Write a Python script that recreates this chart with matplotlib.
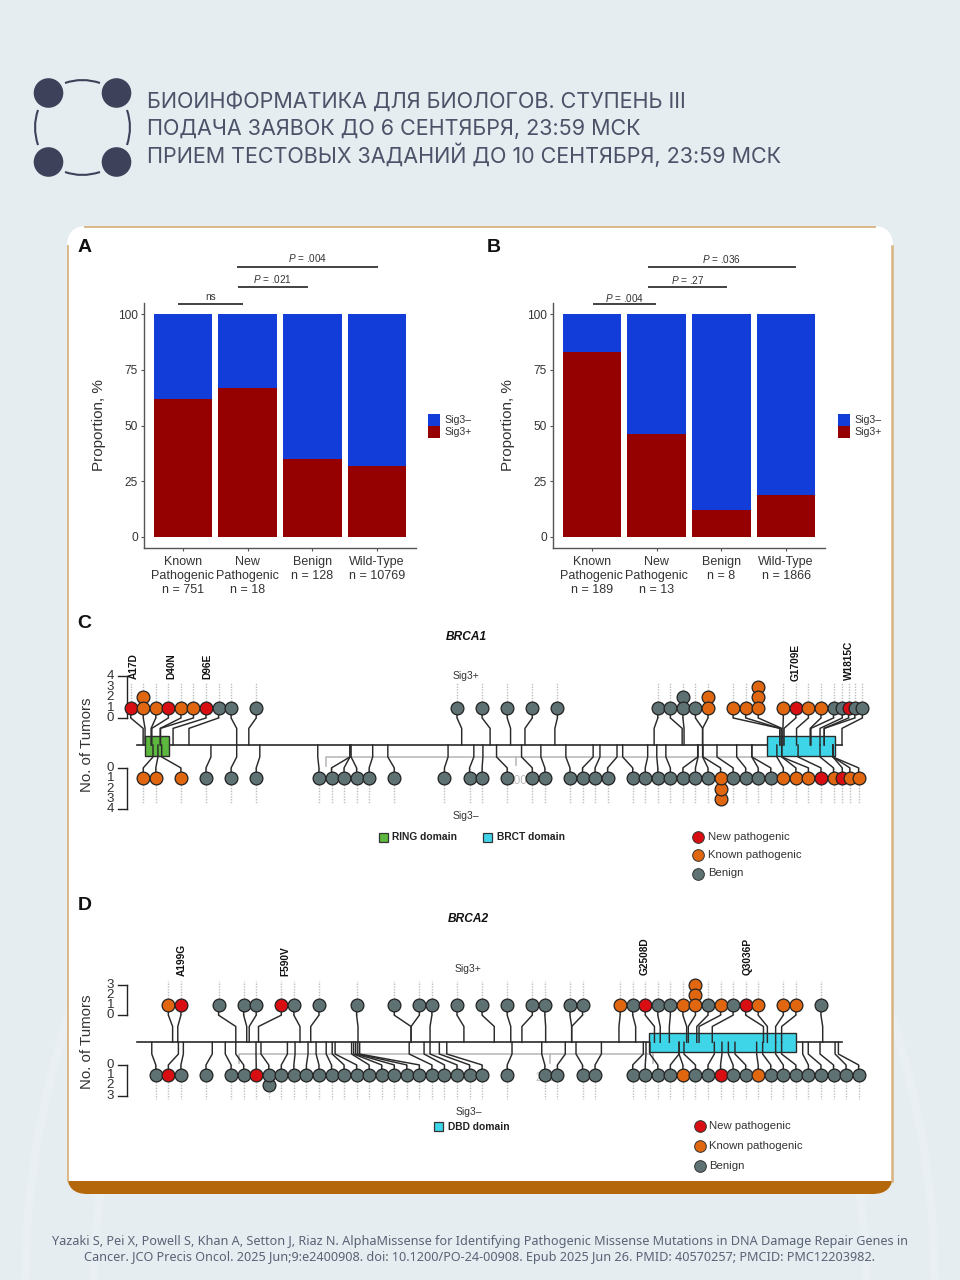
import matplotlib
matplotlib.use('Agg')
import matplotlib.pyplot as plt
from matplotlib.patches import FancyBboxPatch, Rectangle, Circle, PathPatch, Arc
from matplotlib.path import Path

plt.rcParams['font.family'] = ['Liberation Sans', 'DejaVu Sans']
plt.rcParams['mathtext.fontset'] = 'custom'
plt.rcParams['mathtext.it'] = 'Liberation Sans:italic'
plt.rcParams['mathtext.rm'] = 'Liberation Sans'

W, H = 960, 1280

# Bar panels
labels_a = ['Known\nPathogenic\nn = 751', 'New\nPathogenic\nn = 18', 'Benign\nn = 128', 'Wild-Type\nn = 10769']
labels_b = ['Known\nPathogenic\nn = 189', 'New\nPathogenic\nn = 13', 'Benign\nn = 8', 'Wild-Type\nn = 1866']
sig_pos_a = [62, 67, 35, 32]
sig_pos_b = [83, 46, 12, 19]
y_ticks = [0, 25, 50, 75, 100]

# BRCA1 lollipops: slot along the dot row, tumor count, class, residue on the protein
c_top_slot = [0, 1, 2, 3, 4, 5, 6, 7, 8, 10, 26, 28, 30, 32, 34, 42, 43, 44, 45, 46, 48, 49, 50, 52, 53, 54, 55,
              56, 56.7, 57.2, 57.7, 58.3]
c_top_count = [1, 2, 1, 1, 1, 1, 1, 1, 1, 1, 1, 1, 1, 1, 1, 1, 1, 2, 1, 2, 1, 1, 3, 1, 1, 1, 1, 1, 1, 1, 1, 1]
c_top_class = list('nkknkknbbbbbbbbbbbbkkkkknkkbbnbb')
c_top_res = [17, 22, 38, 40, 62, 63, 96, 138, 264, 296, 858, 933, 987, 1025, 1104, 1366, 1440, 1445, 1494, 1494,
             1698, 1698, 1703, 1706, 1709, 1742, 1778, 1780, 1804, 1815, 1815, 1862]

c_bot_slot = [1, 2, 4, 6, 8, 10, 15, 16, 17, 18, 19, 21, 25, 27, 28, 30, 32, 33, 35, 36, 37, 38, 40, 41, 42, 43, 44,
              45, 46, 47, 48, 49, 50, 51, 52, 53, 54, 55, 56, 56.7, 57.3, 58]
c_bot_count = [1] * 29 + [3] + [1] * 12
c_bot_class = list('kkkbbbbbbbbbbbbbbbbbbbbbbbbbbkbbbbkkknknkk')
c_bot_res = [43, 56, 66, 196, 264, 325, 478, 563, 563, 566, 623, 663, 822, 890, 914, 950, 1016, 1067, 1133, 1205,
             1223, 1268, 1283, 1349, 1373, 1397, 1481, 1482, 1494, 1495, 1532, 1584, 1624, 1624, 1690, 1703, 1703,
             1746, 1804, 1838, 1838, 1838]

# BRCA2 lollipops
d_top_slot = [3, 4, 7, 9, 10, 12, 13, 15, 18, 21, 23, 24, 26, 28, 30, 32, 33, 35, 36, 39, 40, 41, 42, 43, 44, 45,
              46, 47, 48, 49, 50, 52, 53, 55]
d_top_count = [1] * 25 + [3] + [1] * 8
d_top_class = list('knbbbnbbbbbbbbbbbbbkbnbbkkbkbnkkkb')
d_top_res = [174, 199, 480, 533, 545, 590, 791, 843, 1072, 1329, 1329, 1421, 1585, 1732, 1812, 1866, 1981, 2107,
             2107, 2336, 2417, 2508, 2536, 2580, 2664, 2672, 2713, 2724, 2788, 3036, 3055, 3095, 3124, 3323]

d_bot_slot = [2, 3, 4, 6, 8, 9, 10, 11, 12, 13, 14, 15, 16, 17, 18, 19, 20, 21, 22, 23, 24, 25, 26, 27, 28, 30, 33,
              34, 36, 37, 40, 41, 42, 43, 44, 45, 46, 47, 48, 49, 50, 51, 52, 53, 54, 55, 56, 57, 58]
d_bot_count = [1] * 7 + [2] + [1] * 41
d_bot_class = list('bnbbbbnbbbbbbbbbbbbbbbbbbbbbbbbbbbkbbnbbkbbbbbbbb')
d_bot_res = [73, 202, 226, 366, 429, 480, 578, 602, 730, 767, 830, 869, 918, 947, 961, 1041, 1051, 1061, 1071, 1080,
             1320, 1392, 1421, 1466, 1502, 1818, 1962, 2076, 2128, 2251, 2454, 2467, 2486, 2627, 2627, 2651, 2798,
             2835, 2866, 2898, 3003, 3032, 3095, 3124, 3226, 3253, 3310, 3383, 3399]

colors = {'n': '#D80E12', 'k': '#E0660F', 'b': '#5E7273'}
RED, BLUE = '#950000', '#123DD8'
TXT = '#333333'


def px_axes(x0, y0, x1, y1):
    return fig.add_axes([x0 / W, 1 - y1 / H, (x1 - x0) / W, (y1 - y0) / H])


def arc_line(ax, p0, ctrl, p1):
    path = Path([p0, ctrl, p1], [Path.MOVETO, Path.CURVE3, Path.CURVE3])
    ax.add_patch(PathPatch(path, fc='none', ec='#3D4159', lw=1.5))


def bar_panel(x0, labels, sig_pos):
    ax = px_axes(x0, 303, x0 + 272, 548)
    pos = range(len(labels))
    neg = [100 - v for v in sig_pos]
    ax.bar(pos, sig_pos, width=0.9, color=RED)
    ax.bar(pos, neg, width=0.9, bottom=sig_pos, color=BLUE)
    ax.set_xlim(-0.6, 3.6)
    ax.set_ylim(-5, 105)
    ax.set_yticks(y_ticks)
    ax.set_xticks(list(pos))
    ax.set_xticklabels(labels, fontsize=9, color=TXT, linespacing=1.2)
    ax.tick_params(axis='y', labelsize=8.6, labelcolor=TXT, length=2.5, color='#555555', pad=2)
    ax.tick_params(axis='x', length=2, color='#555555', pad=4)
    ax.set_ylabel('Proportion, %', fontsize=11, color=TXT, labelpad=8.5)
    ax.patch.set_visible(False)
    for s in ['top', 'right']:
        ax.spines[s].set_visible(False)
    for s in ['left', 'bottom']:
        ax.spines[s].set_color('#555555')
        ax.spines[s].set_linewidth(1)
    return ax


def sig_bar(x0, x1, y, label, y_text):
    bg.plot([x0, x1], [y, y], color='#222222', lw=1.2, solid_capstyle='butt')
    bg.text((x0 + x1) / 2, y_text, label, ha='center', va='center', fontsize=7.2, color=TXT)


def lollipop_row(ax, slots, counts, classes, res, sign, zero, elbow, scale):
    for s, c, k, r in zip(slots, counts, classes, res):
        x_dot = (12.55 * s - 6) * scale
        ax.plot([x_dot, x_dot], [sign * zero, sign * (zero + 3.35)], color='#BDBDBD', lw=1,
                ls=(0, (1, 1)), zorder=1)
        ax.plot([r, r, x_dot, x_dot], [0, sign * elbow, sign * zero, sign * (zero + 1)],
                color='#2A2A2A', lw=1.05, zorder=4, solid_joinstyle='round')
    for s, c, k in zip(slots, counts, classes):
        x_dot = (12.55 * s - 6) * scale
        for i in range(c, 0, -1):
            ax.plot(x_dot, sign * (zero + i), 'o', ms=9.2, mfc=colors[k], mec='#222222', mew=0.9, zorder=5)


def count_axis(ax, sign, zero, n, scale):
    x_line = (127 - 136.7) * scale
    x_tick = (118 - 136.7) * scale
    x_text = (110.5 - 136.7) * scale
    ys = [sign * (zero + i) for i in range(n + 1)]
    ax.plot([x_line, x_line], [ys[0], ys[-1]], color='#222222', lw=1, clip_on=False)
    for i, y in enumerate(ys):
        if i in (0, n):
            ax.plot([x_tick, x_line], [y, y], color='#222222', lw=1, clip_on=False)
        ax.text(x_text, y, str(i), ha='center', va='center', fontsize=9.6, color=TXT)


def gene_panel(y0, y1, backbone, unit, scale, top, bot, zero_up, zero_down, elbow_up, elbow_down, n_count):
    ax = px_axes(67, y0, 893, y1)
    ax.set_xlim((67 - 136.7) * scale, (893 - 136.7) * scale)
    ax.set_ylim((backbone - y1) / unit, (backbone - y0) / unit)
    ax.axis('off')
    ax.plot([0, (842.3 - 136.7) * scale], [0, 0], color='#2A2A2A', lw=1.2, zorder=2)
    lollipop_row(ax, *top, 1, zero_up, elbow_up, scale)
    lollipop_row(ax, *bot, -1, zero_down, elbow_down, scale)
    count_axis(ax, 1, zero_up, n_count, scale)
    count_axis(ax, -1, zero_down, n_count, scale)
    return ax


fig = plt.figure(figsize=(9.6, 12.8), dpi=100, facecolor='#E5EDF0')

# Page background, card, header
bg = fig.add_axes([0, 0, 1, 1])
bg.set_xlim(0, W)
bg.set_ylim(H, 0)
bg.axis('off')

# faint wide swirls behind the card, lower part of the page only
for cx in [46, 914]:
    for d in [1778, 1640]:
        swirl = Arc((cx, 1290), d, d, ec='white', lw=6, alpha=0.16)
        bg.add_patch(swirl)
        swirl.set_clip_path(Rectangle((0, 980), W, 300, transform=bg.transData))

box = dict(boxstyle='round,pad=0,rounding_size=20', lw=0)
white = FancyBboxPatch((67, 226), 826, 968, fc='white', **box)
bg.add_patch(white)
band = FancyBboxPatch((67, 226), 826, 968, fc='#B5670B', **box)
bg.add_patch(band)
band.set_clip_path(Rectangle((60, 1181), 840, 20, transform=bg.transData))
tan = '#D8B27E'
bg.plot([85, 875], [227, 227], color=tan, lw=1.3)
bg.plot([68, 68], [246, 1181], color=tan, lw=1.3)
bg.plot([892, 892], [246, 1181], color=tan, lw=1.8)

for cx, cy in [(48.5, 93), (116.5, 93), (48.5, 162), (116.5, 162)]:
    bg.add_patch(Circle((cx, cy), 14.8, fc='#3D4159', ec='none'))
arc_line(bg, (65, 83), (82, 77), (100, 83))
arc_line(bg, (65, 172), (82, 178), (100, 172))
arc_line(bg, (38, 110), (32, 127), (38, 145))
arc_line(bg, (127, 110), (133, 127), (127, 145))

header = ['БИОИНФОРМАТИКА ДЛЯ БИОЛОГОВ. СТУПЕНЬ III',
          'ПОДАЧА ЗАЯВОК ДО 6 СЕНТЯБРЯ, 23:59 МСК',
          'ПРИЕМ ТЕСТОВЫХ ЗАДАНИЙ ДО 10 СЕНТЯБРЯ, 23:59 МСК']
for line, y in zip(header, [102, 129, 155]):
    bg.text(147, y, line, fontsize=15.5, family='Inter', color='#4C5268', va='center')

footer = ['Yazaki S, Pei X, Powell S, Khan A, Setton J, Riaz N. AlphaMissense for Identifying Pathogenic Missense '
          'Mutations in DNA Damage Repair Genes in',
          'Cancer. JCO Precis Oncol. 2025 Jun;9:e2400908. doi: 10.1200/PO-24-00908. Epub 2025 Jun 26. '
          'PMID: 40570257; PMCID: PMC12203982.']
for line, y in zip(footer, [1242, 1258]):
    bg.text(480, y, line, fontsize=9.1, family='Noto Sans', color='#5A6276', ha='center', va='center')

for letter, x, y in [('A', 78, 247), ('B', 487, 247), ('C', 77, 624), ('D', 78, 906)]:
    bg.text(x, y, letter, fontsize=14, fontweight='bold', color='#111111', va='center')

# Panels A and B
bar_panel(144, labels_a, sig_pos_a)
bar_panel(553, labels_b, sig_pos_b)

sig_bar(178, 243, 304, 'ns', 297)
sig_bar(238, 308, 286.5, r'$\it{P}$ = .021', 279)
sig_bar(237, 378, 266.5, r'$\it{P}$ = .004', 258)
sig_bar(593, 656, 304, r'$\it{P}$ = .004', 298)
sig_bar(648, 727, 287, r'$\it{P}$ = .27', 280)
sig_bar(648, 796, 267, r'$\it{P}$ = .036', 259)

for x in [428, 838]:
    bg.add_patch(Rectangle((x, 414), 12, 12, fc=BLUE, ec='none'))
    bg.add_patch(Rectangle((x, 426.3), 12, 12, fc=RED, ec='none'))
    bg.text(x + 16, 420, 'Sig3–', fontsize=7.6, color=TXT, va='center')
    bg.text(x + 16, 432, 'Sig3+', fontsize=7.6, color=TXT, va='center')

# Panel C
scale_c = 2.64
ax_c = gene_panel(620, 830, 745, 10.4, scale_c, (c_top_slot, c_top_count, c_top_class, c_top_res),
                  (c_bot_slot, c_bot_count, c_bot_class, c_bot_res), 2.6, 2.2, 1.6, 1.15, 4)
ax_c.add_patch(Rectangle((23, -1.03), 63, 1.9, fc='#5DB83F', ec='#2A2A2A', lw=1, zorder=3))
ax_c.add_patch(Rectangle((1663, -1.03), 181, 1.9, fc='#3FD5E8', ec='#2A2A2A', lw=1, zorder=3))
ax_c.plot([500, 500, 1663], [-2.0, -1.15, -1.15], color='#BBBBBB', lw=1.2, zorder=1)
ax_c.plot([1001, 1001], [-1.15, -1.95], color='#BBBBBB', lw=1.2, zorder=1)
bg.text(520, 781, '1000', fontsize=8.5, color='#BBBBBB', ha='center', va='center')

# Panel D
scale_d = 4.844
ax_d = gene_panel(900, 1120, 1042.3, 10.2, scale_d, (d_top_slot, d_top_count, d_top_class, d_top_res),
                  (d_bot_slot, d_bot_count, d_bot_class, d_bot_res), 2.66, 2.22, 1.55, 1.15, 3)
ax_d.add_patch(Rectangle((2483, -0.98), 711, 1.9, fc='#3FD5E8', ec='#2A2A2A', lw=1, zorder=3))
ax_d.plot([496, 496, 2483], [-2.0, -1.15, -1.15], color='#BBBBBB', lw=1.2, zorder=1)
ax_d.plot([2000, 2000], [-1.15, -2.0], color='#BBBBBB', lw=1.2, zorder=1)
ax_d.plot([2500, 2500], [-1.15, -2.0], color='#BBBBBB', lw=1.2, zorder=1)
bg.text(549, 1078, '2000', fontsize=8.5, color='#BBBBBB', ha='center', va='center')

# Text over the gene panels goes on a clear top layer
top = fig.add_axes([0, 0, 1, 1])
top.set_xlim(0, W)
top.set_ylim(H, 0)
top.axis('off')

for y in [745, 1042]:
    top.text(87, y, 'No. of Tumors', fontsize=10.8, color=TXT, rotation=90, ha='center', va='center')

for name, x, y in [('A17D', 134, 679), ('D40N', 171, 679), ('D96E', 207, 679), ('G1709E', 796, 681),
                   ('W1815C', 849, 680), ('A199G', 182, 976), ('F590V', 285, 976), ('G2508D', 645, 975),
                   ('Q3036P', 748, 975)]:
    top.text(x, y, name, fontsize=7.3, fontweight='bold', color='#111111', rotation=90, ha='center', va='bottom')

top.text(466, 637, 'BRCA1', fontsize=8.6, fontweight='bold', style='italic', color='#111111', ha='center', va='center')
top.text(468.5, 919, 'BRCA2', fontsize=8.6, fontweight='bold', style='italic', color='#111111', ha='center', va='center')
for txt, x, y in [('Sig3+', 465.5, 676), ('Sig3–', 466, 816), ('Sig3+', 467.5, 969), ('Sig3–', 468.5, 1112)]:
    top.text(x, y, txt, fontsize=7.5, color=TXT, ha='center', va='center')

for x, y, c, txt in [(378.5, 837.5, '#5DB83F', 'RING domain'), (483, 837.5, '#3FD5E8', 'BRCT domain'),
                     (433.5, 1126.5, '#3FD5E8', 'DBD domain')]:
    top.add_patch(Rectangle((x, y - 4.7), 9.4, 9.4, fc=c, ec='#333333', lw=0.9))
    top.text(x + 14, y, txt, fontsize=7.4, fontweight='bold', color='#222222', va='center')

legend_names = ['New pathogenic', 'Known pathogenic', 'Benign']
for k, name, y_c, y_d in zip('nkb', legend_names, [836.5, 855, 873.5], [1126, 1146, 1166]):
    top.plot(698, y_c, 'o', ms=8.4, mfc=colors[k], mec='#333333', mew=0.7)
    top.text(708, y_c, name, fontsize=8.2, color=TXT, va='center')
    top.plot(699.5, y_d, 'o', ms=8.4, mfc=colors[k], mec='#333333', mew=0.7)
    top.text(709, y_d, name, fontsize=8.2, color=TXT, va='center')

fig.savefig('out.png', dpi=100, facecolor=fig.get_facecolor())
